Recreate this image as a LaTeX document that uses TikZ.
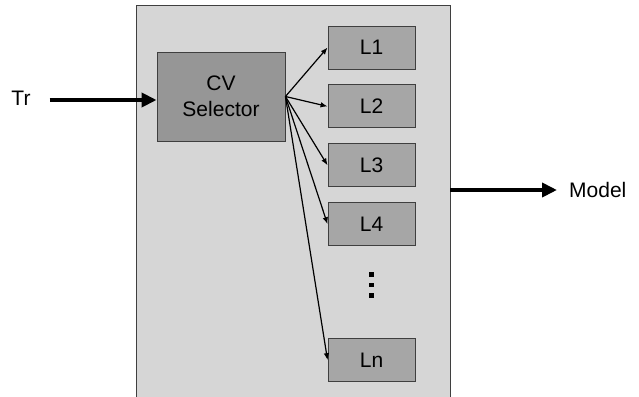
\documentclass[tikz,border=0pt]{standalone}
\usepackage{fontspec}
\setmainfont{Liberation Sans}
\usetikzlibrary{arrows.meta,positioning}
\definecolor{panelgray}{HTML}{D6D6D6}
\definecolor{selgray}{HTML}{969696}
\definecolor{learngray}{HTML}{A6A6A6}
\definecolor{edgegray}{HTML}{3F3F3F}
\tikzset{
  panel/.style={
    draw=edgegray,
    fill=panelgray,
    line width=0.9pt,
    minimum width=314pt,
    minimum height=400pt,
    inner sep=0pt
  },
  selbox/.style={
    draw=edgegray,
    fill=selgray,
    line width=0.9pt,
    minimum width=128pt,
    minimum height=89pt,
    align=center,
    font=\fontsize{21}{26}\selectfont
  },
  learnbox/.style={
    draw=edgegray,
    fill=learngray,
    line width=0.9pt,
    minimum width=87pt,
    minimum height=43pt,
    font=\fontsize{21}{25}\selectfont
  },
  plainlabel/.style={font=\fontsize{21}{25}\selectfont, inner sep=0pt},
  bigarrow/.style={-{Triangle[length=15pt,width=14pt]}, line width=4pt},
  fanarrow/.style={-{Latex[length=7pt,width=5.5pt]}, line width=1.2pt}
}
\begin{document}
\begin{tikzpicture}[x=1pt,y=-1pt]
  \useasboundingbox (0,0) rectangle (639,396);
  \begin{scope}
  \clip (0,0) rectangle (639,396);
  \node[panel] (panel) at (293,205) {};
  \end{scope}
  \node[selbox] (cv) at (221,96.5) {CV\\Selector};
  \node[learnbox] (l1) at (371.5,47.5) {L1};
  \node[learnbox, below=15pt of l1] (l2) {L2};
  \node[learnbox, below=15pt of l2] (l3) {L3};
  \node[learnbox, below=15pt of l3] (l4) {L4};
  \node[learnbox, below=92pt of l4] (ln) {Ln};
  \coordinate[below=39pt of l4] (dots);
  \foreach \d in {-10.5,0,10.5}
    \fill ([yshift=\d pt]dots) +(-2.2pt,-2.2pt) rectangle +(2.2pt,2.2pt);
  \node[plainlabel] (tr) at (21,98) {Tr};
  \node[plainlabel, anchor=west] (model) at (569,190) {Model};
  \draw[bigarrow] ([xshift=19pt,yshift=-2pt]tr.east) -- ([yshift=-2pt]tr.east -| cv.west);
  \draw[bigarrow] (panel.east |- model.west) -- ([xshift=-12pt]model.west);
  \foreach \l in {l1,l2,l3,l4,ln}
    \draw[fanarrow] (cv.east) -- (\l.west);
\end{tikzpicture}
\end{document}
